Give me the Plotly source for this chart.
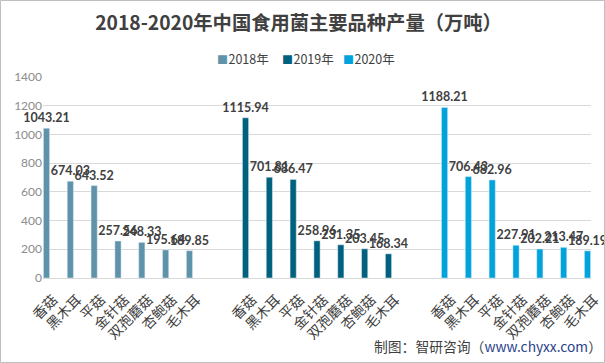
import plotly.graph_objects as go

categories = ["香菇", "黑木耳", "平菇", "金针菇", "双孢蘑菇", "杏鲍菇", "毛木耳"]
years = ["2018年", "2019年", "2020年"]
values_2018 = [1043.21, 674.03, 643.52, 257.56, 248.33, 195.64, 189.85]
values_2019 = [1115.94, 701.81, 686.47, 258.96, 231.35, 203.45, 168.34]
values_2020 = [1188.21, 706.43, 682.96, 227.91, 202.21, 213.47, 189.19]
colors = ["#5e93aa", "#00617f", "#00a3dc"]

series = [values_2018, values_2019, values_2020]
n = len(categories)
FONT = "Noto Sans CJK SC"
NUMFONT = "Lato"
PW, PH, ML, MT = 548, 201, 43, 77

fig = go.Figure()
tickvals, ticktext = [], []
for g, (name, vals, col) in enumerate(zip(years, series, colors)):
    xs = [g * (n + 1) + k + (g - 1) * 0.353 for k in range(n)]
    tickvals += xs
    ticktext += categories
    fig.add_trace(go.Bar(
        x=xs, y=vals, name=name, marker_color=col, width=0.26,
        text=[f"{v:.2f}" for v in vals], textposition="outside",
        constraintext="none", cliponaxis=False, showlegend=False,
        textfont=dict(family=NUMFONT, size=12.5, color="#404040", weight="bold"),
    ))

# legend drawn as text entries
legend_px = [215, 280, 341]
annotations = []
for px, name, col in zip(legend_px, years, colors):
    annotations.append(dict(
        text=f'<span style="color:{col};font-size:11px">■</span><span style="font-size:2px"> </span>{name}',
        xref="paper", yref="paper", x=(px - ML) / PW, y=1 + (MT - 58) / PH,
        xanchor="left", yanchor="middle", showarrow=False,
        font=dict(family=FONT, size=12.5, color="#404040")))

annotations.append(dict(
    text='制图：智研咨询（<span style="color:#2b3f8c">www.chyxx.com</span>）',
    xref="paper", yref="paper", x=(604 - ML) / PW, y=-(346 - (MT + PH)) / PH,
    xanchor="right", yanchor="middle", showarrow=False,
    font=dict(family=FONT, size=13.8, color="#404040")))

fig.update_layout(
    width=605, height=363,
    margin=dict(l=ML, r=605 - ML - PW, t=MT, b=363 - MT - PH, autoexpand=False),
    plot_bgcolor="white", paper_bgcolor="white",
    font=dict(family=FONT, color="#595959"),
    title=dict(text="<b>2018-2020年中国食用菌主要品种产量（万吨）</b>",
               x=(298.5) / 605, xanchor="center", y=1 - 23 / 363, yanchor="middle",
               font=dict(family=FONT, size=19.3, color="#404040")),
    showlegend=False,
    xaxis=dict(range=[-0.5, 3 * n + 1.5], tickvals=tickvals, ticktext=ticktext,
               tickangle=-45, tickfont=dict(family=FONT, size=14, color="#404040"),
               ticklabelshift=7, ticklabelstandoff=7,
               showgrid=False, showline=True, linecolor="#d9d9d9", ticks="", zeroline=False,
               automargin=False),
    yaxis=dict(range=[0, 1400], dtick=200, gridcolor="#d9d9d9", showline=False,
               tickfont=dict(family=NUMFONT, size=12, color="#8c8c8c"), zeroline=False,
               ticklen=0, automargin=False),
    annotations=annotations,
    shapes=[dict(type="rect", xref="paper", yref="paper",
                 x0=-(ML - 0.5) / PW, x1=1 + (605 - ML - PW - 0.5) / PW,
                 y0=-(363 - MT - PH - 0.5) / PH, y1=1 + (MT - 0.5) / PH,
                 line=dict(color="#bfbfbf", width=1))],
)

fig.write_html("out.html", config={"displayModeBar": False},
               post_script="document.body.style.margin='0';")
